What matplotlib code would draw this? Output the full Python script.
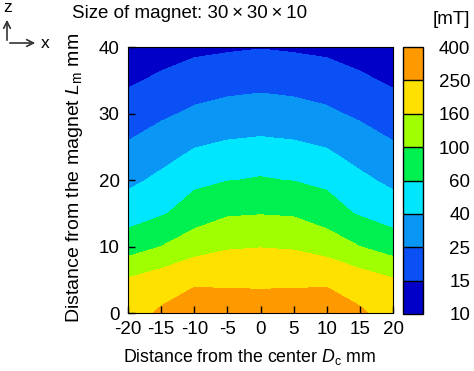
import numpy as np
import matplotlib
matplotlib.use("Agg")
import matplotlib.pyplot as plt
from matplotlib.colors import ListedColormap, BoundaryNorm
from matplotlib.patches import FancyArrowPatch

plt.rcParams['font.family'] = ['Liberation Sans', 'DejaVu Sans']
plt.rcParams['mathtext.fontset'] = 'custom'
plt.rcParams['mathtext.rm'] = 'Liberation Sans'
plt.rcParams['mathtext.it'] = 'Liberation Sans:italic'
plt.rcParams['axes.unicode_minus'] = False

# grid of the measurement (mm)
x_mm = [-20, -15, -10, -5, 0, 5, 10, 15, 20]
z_mm = [0, 5, 10, 15, 20, 25, 30, 35, 40]

# magnetic flux density (mT), one row per height z
field_mT = [
    [200, 266, 330, 318, 310, 318, 330, 266, 200],
    [165, 190, 226, 226, 226, 226, 226, 190, 165],
    [72, 100, 128, 152, 157, 152, 128, 100, 72],
    [50, 56, 75, 93.6, 97.3, 93.6, 75, 56, 50],
    [35.8, 43.6, 53.2, 58.8, 61.8, 58.8, 53.2, 43.6, 35.8],
    [26.3, 31.8, 39.4, 42.6, 44.0, 42.6, 39.4, 31.8, 26.3],
    [19.0, 22.9, 27.0, 29.7, 30.9, 29.7, 27.0, 22.9, 19.0],
    [13.8, 16.3, 18.8, 20.3, 21.3, 20.3, 18.8, 16.3, 13.8],
    [10.5, 11.6, 13.2, 13.9, 14.6, 13.9, 13.2, 11.6, 10.5],
]

levels = [10, 15, 25, 40, 60, 100, 160, 250, 400]
band_colors = ['#0000c8', '#0a50f5', '#0a96f5', '#00e6ff',
               '#00f050', '#a0ff00', '#ffe100', '#ff9900']

cmap = ListedColormap(band_colors)
norm = BoundaryNorm(levels, cmap.N)

W, H = 474, 371
fig = plt.figure(figsize=(W / 100, H / 100), dpi=100)
ax = fig.add_axes([128 / W, 1 - 313 / H, 265 / W, 266 / H])
cax = fig.add_axes([403 / W, 1 - 314 / H, 20 / W, 267 / H])

X, Z = np.meshgrid(x_mm, z_mm)
cs = ax.contourf(X, Z, np.array(field_mT), levels=levels, cmap=cmap, norm=norm)

ax.set_xlim(-20, 20)
ax.set_ylim(0, 40)
ax.set_xticks(range(-20, 21, 5))
ax.set_yticks(range(0, 41, 10))
ax.tick_params(direction='in', length=5, width=1, labelsize=13.5, pad=6,
               top=False, right=False)
ax.set_xlabel('Distance from the center $\\mathit{D}_{\\rm c}$ mm', fontsize=12.8,
              va='center')
ax.xaxis.set_label_coords((250 - 128) / 265, (313 - 357) / 266)
ax.set_ylabel('Distance from the magnet $\\mathit{L}_{\\rm m}$ mm', fontsize=14,
              va='center')
ax.yaxis.set_label_coords((75 - 128) / 265, (313 - 178) / 266)

cb = fig.colorbar(cs, cax=cax, drawedges=True)
cb.set_ticks(levels)
cb.set_ticklabels([str(v) for v in levels])
cb.outline.set_linewidth(1)
cb.dividers.set_linewidth(1)
cax.tick_params(length=0, labelsize=13.5, pad=34)
for lab in cax.get_yticklabels():
    lab.set_horizontalalignment('right')

fig.text(470 / W, 1 - 20 / H, '[mT]', ha='right', va='center', fontsize=13.5)
fig.text(72 / W, 1 - 13 / H, 'Size of magnet: 30\u2009\u00d7\u200930\u2009\u00d7\u200910',
         ha='left', va='center', fontsize=13.5)

# coordinate icon
fig.patches.append(FancyArrowPatch(
    (7 / W, 1 - 43 / H), (7 / W, 1 - 17 / H), transform=fig.transFigure,
    arrowstyle='->', mutation_scale=12, lw=1.2, color='#333333'))
fig.patches.append(FancyArrowPatch(
    (7 / W, 1 - 43 / H), (38 / W, 1 - 43 / H), transform=fig.transFigure,
    arrowstyle='->', mutation_scale=12, lw=1.2, color='#333333'))
fig.text(8 / W, 1 - 8 / H, 'z', ha='center', va='center', fontsize=12.5)
fig.text(45 / W, 1 - 44 / H, 'x', ha='center', va='center', fontsize=12.5)

fig.savefig('out.png', dpi=100)
